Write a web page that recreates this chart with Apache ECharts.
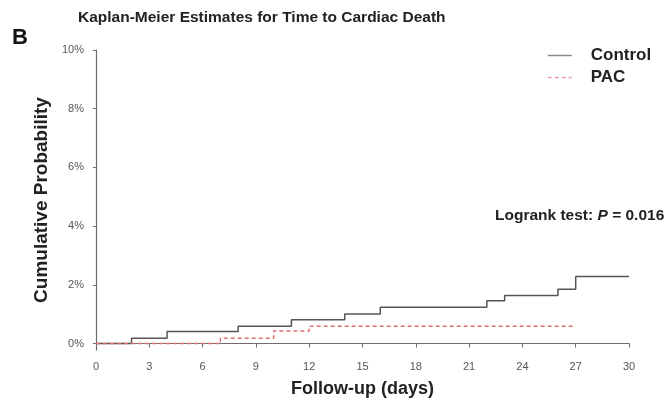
<!DOCTYPE html>
<html>
<head>
<meta charset="utf-8">
<script src="https://cdn.jsdelivr.net/npm/echarts@6/dist/echarts.min.js"></script>
<style>
  html, body { margin: 0; padding: 0; background: #fff; }
  #chart { width: 668px; height: 403px; }
</style>
</head>
<body>
<div id="chart"></div>
<script>
// Kaplan-Meier cumulative probability of cardiac death (%), by follow-up day
const controlDays = [0, 2, 4, 8, 11, 14, 16, 22, 23, 26, 27, 30];
const controlPct  = [0, 0.18, 0.41, 0.59, 0.81, 1.01, 1.24, 1.46, 1.64, 1.85, 2.28, 2.28];
const pacDays = [0, 7, 10, 12, 27];
const pacPct  = [0, 0.18, 0.43, 0.59, 0.59];
const yTickValues = [0, 2, 4, 6, 8, 10];

const pairs = (xs, ys) => xs.map((x, i) => [x, ys[i]]);

const FONT = 'Liberation Sans, Arial, sans-serif';
const chart = echarts.init(document.getElementById('chart'), null, { renderer: 'canvas' });
const axisGray = '#6d6d6d';
const labelGray = '#555';
const controlColor = '#555';
const pacColor = '#e07070';

chart.setOption({
  animation: false,
  backgroundColor: '#fff',
  textStyle: { fontFamily: FONT },
  title: {
    text: 'Kaplan-Meier Estimates for Time to Cardiac Death',
    left: 78, top: 10, padding: 0,
    textStyle: { fontSize: 15.5, fontWeight: 'bold', color: '#222', fontFamily: FONT }
  },
  legend: {
    orient: 'vertical',
    left: 547, top: 47, padding: 0,
    itemWidth: 24, itemHeight: 14, itemGap: 5,
    itemStyle: { opacity: 0 },
    textStyle: { fontSize: 17, fontWeight: 'bold', color: '#222', padding: [0, 0, 0, 14] },
    data: [
      { name: 'Control', lineStyle: { color: '#8a8a8a', width: 1.5 } },
      { name: 'PAC', lineStyle: { color: '#eba0a0', width: 1.5 } }
    ]
  },
  grid: { left: 96, right: 39, top: 50, bottom: 53, containLabel: false },
  xAxis: {
    type: 'value', min: 0, max: 30, interval: 3,
    axisLine: { lineStyle: { color: axisGray, width: 1.2 } },
    axisTick: { show: true, length: 4, inside: false, lineStyle: { color: axisGray } },
    axisLabel: { fontSize: 11, color: labelGray, margin: 11 },
    splitLine: { show: false },
    name: 'Follow-up (days)', nameLocation: 'middle', nameGap: 30,
    nameTextStyle: { fontSize: 18, fontWeight: 'bold', color: '#222' }
  },
  yAxis: {
    type: 'value', min: -0.22, max: 10,
    axisLine: { show: true, lineStyle: { color: axisGray, width: 1.2 } },
    axisTick: { show: true, length: 3, customValues: yTickValues, lineStyle: { color: axisGray } },
    axisLabel: { fontSize: 11, color: labelGray, margin: 12, customValues: yTickValues,
                 formatter: v => Math.round(v) + '%' },
    splitLine: { show: false },
    name: 'Cumulative Probability', nameLocation: 'middle', nameGap: 45, nameRotate: 90,
    nameTextStyle: { fontSize: 19, fontWeight: 'bold', color: '#222' }
  },
  series: [
    {
      name: 'Control', type: 'line', step: 'end', symbol: 'none',
      data: pairs(controlDays, controlPct),
      lineStyle: { color: controlColor, width: 1.5 },
      itemStyle: { color: controlColor }, z: 2
    },
    {
      name: 'PAC', type: 'line', step: 'end', symbol: 'none',
      data: pairs(pacDays, pacPct),
      lineStyle: { color: pacColor, width: 1.5, type: [4, 3] },
      itemStyle: { color: pacColor }, z: 3
    }
  ],
  graphic: [
    { type: 'text', left: 12, top: 27,
      style: { text: 'B', font: 'bold 22px ' + FONT, fill: '#111' } },
    { type: 'text', left: 495, top: 208,
      style: {
        text: '{n|Logrank test: }{i|P}{n| = 0.016}',
        rich: {
          n: { font: 'bold 15.5px ' + FONT, fill: '#222' },
          i: { font: 'italic bold 15.5px ' + FONT, fill: '#222' }
        }
      } }
  ]
});
</script>
</body>
</html>
